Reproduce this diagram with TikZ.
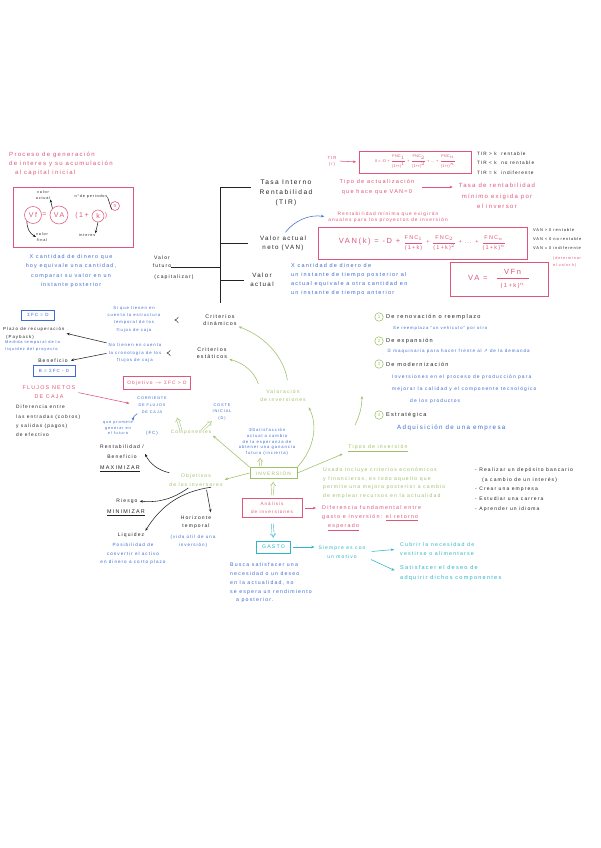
\documentclass[tikz,border=0pt]{standalone}
\usepackage{fontspec}
\usetikzlibrary{arrows.meta,calc}
\newfontfamily\hand[LetterSpace=22]{Liberation Sans}
\newfontfamily\hfm[LetterSpace=4]{Liberation Sans}
\newfontfamily\djv{DejaVu Sans}
\newcommand\hfs[2]{\hand\fontsize{#1}{#2}\selectfont}
\newcommand\hfr[2]{\ensuremath{\displaystyle\frac{\mbox{#1}}{\mbox{#2}}}}
\definecolor{pk}{HTML}{E0557C}
\definecolor{bl}{HTML}{3D6BD4}
\definecolor{gr}{HTML}{9DC068}
\definecolor{cy}{HTML}{2EB5C6}
\definecolor{bk}{HTML}{222222}
\begin{document}
\begin{tikzpicture}[x=1pt,y=-1pt,
 every node/.style={inner sep=0pt, align=center},
 f/.style 2 args={font=\hfs{#1}{#2}},
 P/.style={text=pk}, B/.style={text=bl}, G/.style={text=gr}, C/.style={text=cy}, K/.style={text=bk},
 ln/.style={line width=0.55pt},
 ar/.style={ln, -{Stealth[length=3.2pt,width=2.6pt]}},
 hol/.style={double=white, double distance=1.6pt, line width=0.45pt, -{Implies}},
 bx/.style={draw, line width=0.7pt},
 num/.style={circle, draw=gr, ln, text=gr, font=\hfs{4.3}{5}, minimum size=8.5}
]
\useasboundingbox[fill=white] (0,0) rectangle (601,848);

% ---------- top left
\node[f={6}{9},P,align=left,anchor=west] (title) at (9,164) {Proceso de generación\\de interes y su acumulación\\\hspace*{6pt}al capital inicial};
\node[bx,draw=pk,minimum width=120,minimum height=60] (fbox) at (73,217) {};
\node[circle,draw=pk,ln,P,f={7}{8},minimum size=17] (vf) at (33,215) {Vf};
\node[P,f={7}{8}] (eqa) at (44.5,215) {=};
\node[circle,draw=pk,ln,P,f={7}{8},minimum size=18] (va) at (59,215) {VA};
\node[P,f={7}{8}] (opn) at (82,216) {(1+};
\node[circle,draw=pk,ln,P,f={7}{8},minimum size=12] (kk) at (98,216) {k};
\node[P,f={7}{8}] (cls) at (106,216) {)};
\node[circle,draw=pk,ln,P,f={5}{6},minimum size=9] (nn) at (115,206) {n};
\node[K,f={3.8}{5.5}] (lva) at (43,195) {valor\\actual};
\node[K,f={3.8}{5}] (lnp) at (91,197) {n°de periodos};
\node[K,f={3.8}{5.5}] (lvf) at (42,237) {valor\\final};
\node[K,f={3.8}{5}] (lint) at (87,235) {interes};
\draw[ar,bk] (va.north west) -- (lva.south east);
\draw[ln,bk] (lnp.east) -- (nn.south west);
\draw[ar,bk] (vf.south west) to[bend right=30] (lvf.west);
\draw[ar,bk] (kk.south) -- (lint.north east);

\node[B,f={5.4}{9.5}] (xfut) at (71,271) {X cantidad de dinero que\\hoy equivale una cantidad,\\comparar su valor en un\\instante posterior};
\node[K,f={5}{8}] (vfut) at (162,262) {Valor\\futuro};
\node[K,f={5}{8}] (vcap) at (174,277) {(capitalizar)};

% ---------- bracket
\coordinate (brT) at (220,187);
\coordinate (brB) at (220,303);
\coordinate (brF) at (220,267);
\draw[ln,bk] (brT) -- (brB);
\draw[ln,bk] ([yshift=-5pt]vfut.east) -- (brF);
\node[K,f={6.6}{10}] (tir) at (286,193) {Tasa Interno\\Rentabilidad\\(TIR)};
\draw[ln,bk,shorten >=8pt] (brT) -- (brT -| tir.west);
\node[K,f={6.2}{9}] (van) at (283,243) {Valor actual\\neto (VAN)};
\draw[ln,bk,shorten >=12pt] (van.west -| brT) -- (van.west);
\node[K,f={6.2}{9}] (vact) at (262,280) {Valor\\actual};
\draw[ln,bk,shorten >=6pt] (vact.west -| brT) -- (vact.west);

% ---------- TIR
\node[P,f={4.3}{6}] (tirr) at (332,161) {TIR\\(r)};
\node[bx,draw=pk,P,font=\hfm\fontsize{3.9}{4.5}\selectfont,minimum width=112,minimum height=22] (tirbox) at (415.5,162) {0 = -D + \hfr{FNC$_1$}{(1+r)$^1$} + \hfr{FNC$_2$}{(1+r)$^2$} + ... + \hfr{FNC$_n$}{(1+r)$^n$}};
\draw[ar,pk,shorten <=3pt,shorten >=3pt] (tirr.east) -- (tirbox.west);
\node[K,f={4.7}{9.5},align=left,anchor=west] (tirrul) at (477,163) {TIR > k\ \ rentable\\TIR < k\ \ no rentable\\TIR = k\ \ indiferente};
\node[P,f={5.6}{9.5}] (tipoact) at (377,187) {Tipo de actualización\\que hace que VAN=0};
\node[P,f={6}{10.5}] (tasarent) at (497,196) {Tasa de rentabilidad\\mínimo exigida por\\el inversor};
\draw[ar,pk,shorten <=8pt,shorten >=6pt] (tipoact.east) -- (tasarent.west |- tipoact.east);

% ---------- VAN
\node[P,f={4.8}{6.5}] (rentmin) at (388,217) {Rentabilidad mínima que exigirán\\anuales para los proyectos de inversión};
\draw[ar,bl,shorten <=4pt,shorten >=4pt] (van.north) to[bend left=30] (rentmin.west);
\node[bx,draw=pk,P,minimum width=209,minimum height=32] (vanbox) at (422.5,243) {{\hfs{7.5}{9}VAN(k) = -D +}\ {\hfs{5.5}{6}\hfr{FNC$_1$}{(1+k)} + \hfr{FNC$_2$}{(1+k)$^2$} + ... + \hfr{FNC$_n$}{(1+k)$^n$}}};
\node[K,f={4}{9},align=left,anchor=west] (vanrul) at (533,239) {VAN > 0 rentable\\VAN < 0 no rentable\\VAN = 0 indiferente};
\node[P,f={3.8}{7.5},align=left,anchor=west] (detk) at (553,262) {(determinar\\el valor k)};
\node[bx,draw=pk,P,minimum width=98,minimum height=34] (vabox) at (499,279) {{\hfs{7.5}{9}VA =\hspace{8pt}}\hfr{\hfs{7.5}{9}\ \ VFn\ \ }{\hfs{6}{7}(1+k)$^n$}};
\node[B,f={5.5}{9},align=left,anchor=west] (xact) at (291,280) {X cantidad de dinero de\\un instante de tiempo posterior al\\actual equivale a otra cantidad en\\un instante de tiempo anterior};

% ---------- criterios
\node[K,f={5.3}{7.5}] (cdin) at (220,320) {Criterios\\dinámicos};
\node[K,f={5.3}{7.5}] (cest) at (212,353) {Criterios\\estáticos};
\node[B,f={4.2}{7.3}] (sitien) at (134,319) {Si que tienen en\\cuenta la estructura\\temporal de los\\flujos de caja};
\node[B,f={4.3}{7.5}] (notien) at (135,353) {No tienen en cuenta\\la cronología de los\\flujos de caja};
\draw[hol,bk,shorten <=6pt,shorten >=14pt] (cdin.west) -- (sitien.east |- cdin.west);
\draw[hol,bk,shorten <=6pt,shorten >=5pt] (cest.west) -- (notien.east |- cest.west);
\node[G,f={5}{8}] (valor) at (283,396) {Valoración\\de inversiones};
\draw[ar,gr,shorten <=10pt,shorten >=2pt] ([xshift=6pt]valor.north) to[bend right=30] (cdin.south east);
\draw[ar,gr,shorten <=6pt,shorten >=2pt] (valor.north west) to[bend right=30] (cest.south east);

% ---------- left payback
\node[bx,draw=bl,B,f={4.5}{6},minimum width=33,minimum height=10] (sfcd) at (38,315) {ΣFC = D};
\node[K,f={4.4}{8},align=left,anchor=west] (payb) at (3,333) {Plazo de recuperación\\\hspace*{3pt}(Payback)};
\node[B,f={4}{6.5},align=left,anchor=west] (medida) at (5,346) {Medida temporal de la\\liquidez del proyecto};
\draw[ar,bk,shorten <=2pt,shorten >=2pt] (notien.north west) -- (payb.east);
\node[K,f={5}{7}] (benef) at (53,361) {Beneficio};
\draw[ar,bk,shorten <=2pt,shorten >=3pt] (notien.west) -- (benef.east);
\node[bx,draw=bl,B,f={4.5}{6},minimum width=42,minimum height=11] (bsfc) at (54,371) {B = ΣFC - D};
\node[bx,draw=pk,P,f={4.8}{6},minimum width=67,minimum height=13] (objbox) at (157,383) {Objetivo $\rightarrow$ ΣFC > D};
\node[P,f={5.4}{9.5}] (fnc) at (49,392) {FLUJOS NETOS\\DE CAJA};
\node[K,f={4.8}{9.3},align=left,anchor=west] (difent) at (16,421) {Diferencia entre\\las entradas (cobros)\\y salidas (pagos)\\de efectivo};
\node[B,f={3.8}{7}] (corr) at (152,405) {CORRIENTE\\DE FLUJOS\\DE CAJA};
\draw[ar,pk,shorten <=3pt,shorten >=8pt] (fnc.east) -- (corr.west);
\node[B,f={3.9}{5.7}] (prom) at (118,428) {que promete\\generar en\\el futuro};
\draw[ar,bl] (corr.south west) to[bend right=30] (prom.north east);
\node[B,f={4.5}{6}] (fc) at (152,433) {(FC)};
\node[G,f={4.8}{7}] (comp) at (191,432) {Componentes};
\node[B,f={3.9}{6.5}] (coste) at (222,412) {COSTE\\INICIAL\\(D)};
\draw[hol,gr] ([xshift=-10pt,yshift=-1pt]comp.north) -- ([xshift=-14pt,yshift=12pt]comp.north);
\draw[hol,gr,shorten >=1pt] ([xshift=11pt,yshift=-1pt]comp.north) -- (coste.south west);

% ---------- inversion
\node[bx,draw=gr,G,f={4.8}{6},minimum width=47,minimum height=11] (inv) at (273.5,473) {INVERSIÓN};
\draw[ar,gr,shorten >=2pt] (inv.north west) -- (comp.south east);
\node[B,f={4.2}{5.8}] (satis) at (267,442) {{\djv\fontsize{4.2}{5}\selectfont ①}Satisfacción\\actual a cambio\\de la esperanza de\\obtener una ganancia\\futura (incierta)};
\draw[hol,gr,shorten <=1pt,shorten >=2pt] ([xshift=-13pt]inv.north) -- ([xshift=-7pt]satis.south);
\draw[ar,gr,shorten >=6pt] (inv.north east) to[bend right=35] (valor.south east);
\node[G,f={5}{9.5}] (obj) at (196,480) {Objetivos\\de los inversores};
\draw[ar,gr,shorten >=2pt] (inv.west) -- (obj.east);
\node[G,f={5.2}{7}] (tipos) at (378,448) {\underline{Tipos de inversión}};
\draw[ar,gr,shorten >=6pt] (inv.east) -- (tipos.south west);
\node[G,f={5.1}{8.7},align=left,anchor=west] (usado) at (323,483) {Usado incluye criterios económicos\\y financieros, es todo aquello que\\permite una mejora posterior a cambio\\de emplear recursos en la actualidad};
\coordinate (tyA) at (355,425);
\coordinate (tyB) at (362,396);
\draw[ar,gr] (tyA) to[bend right=12] (tyB);

% ---------- tipos list
\node[num] (n1) at (379,317) {1};
\node[K,f={5.6}{7},anchor=west] (r1) at (386,317) {De renovación o reemplazo};
\node[B,f={4.2}{6},anchor=west] (r1b) at (393,328) {Se reemplaza "un vehículo" por otro};
\node[num] (n2) at (379,341) {2};
\node[K,f={5.6}{7},anchor=west] (r2) at (386,341) {De expansión};
\node[B,f={4.5}{6},anchor=west] (r2b) at (387,351) {{\djv\fontsize{4.5}{6}\selectfont ②} maquinaria para hacer frente al {\djv\fontsize{4.5}{6}\selectfont ↗} de la demanda};
\node[num] (n3) at (379,364) {3};
\node[K,f={5.6}{7},anchor=west] (r3) at (386,364) {De modernización};
\node[B,f={4.9}{12},align=left,anchor=west] (r3b) at (392,389) {Inversiones en el proceso de producción para\\mejorar la calidad y el componente tecnológico\\\hspace*{18pt}de los productos};
\node[num] (n4) at (379,415) {4};
\node[K,f={5.6}{7},anchor=west] (r4) at (386,415) {Estratégica};
\node[B,f={6.2}{7},anchor=west] (r4b) at (397,428) {Adquisición de una empresa};

\node[K,f={5}{9.7},align=left,anchor=west] (ejem) at (475,489.5) {- Realizar un depósito bancario\\\hspace*{7pt}(a cambio de un interés)\\- Crear una empresa\\- Estudiar una carrera\\- Aprender un idioma};

% ---------- analisis / gasto
\node[bx,draw=pk,P,f={4.6}{7.5},minimum width=60,minimum height=19] (anal) at (272,508) {Análisis\\de inversiones};
\draw[hol,gr,shorten <=3pt,shorten >=3pt] (anal.north) -- (inv.south);
\node[P,f={5.4}{9},align=left,anchor=west] (difer) at (322,518) {Diferencia fundamental entre\\gasto e inversión: \underline{el retorno}\\\hspace*{6pt}\underline{esperado}};
\draw[ar,pk,shorten <=3pt,shorten >=6pt] (anal.east) -- (difer.west |- anal.east);
\node[bx,draw=cy,C,f={5.2}{6},minimum width=34,minimum height=12] (gasto) at (273.5,547) {GASTO};
\draw[hol,cy,shorten <=6pt,shorten >=3pt] (anal.south) -- (gasto.north);
\node[C,f={5}{8.5}] (siempre) at (342,552) {Siempre es con\\un motivo};
\draw[ar,cy,shorten <=2pt,shorten >=4pt] (gasto.east) -- (siempre.west |- gasto.east);
\node[C,f={5.3}{8.2},align=left,anchor=west] (cubrir) at (400,549) {Cubrir la necesidad de\\vestirse o alimentarse};
\node[C,f={5.6}{9.5},align=left,anchor=west] (satisf) at (400,573) {Satisfacer el deseo de\\adquirir dichos componentes};
\draw[ar,cy,shorten <=6pt,shorten >=6pt] (siempre.east) -- (cubrir.west);
\draw[ar,cy,shorten <=6pt,shorten >=6pt] ([yshift=-5pt]siempre.east) -- (satisf.west);
\node[B,f={5.2}{8.8},align=left,anchor=west] (busca) at (230,583) {Busca satisfacer una\\necesidad o un deseo\\en la actualidad, no\\se espera un rendimiento\\\hspace*{6pt}a posterior.};

% ---------- objetivos
\node[K,f={5}{10}] (rent) at (122,452) {Rentabilidad /\\Beneficio};
\node[K,f={5.4}{6}] (maxi) at (120,469) {\underline{MAXIMIZAR}};
\node[K,f={5}{6}] (riesgo) at (127,501) {Riesgo};
\node[K,f={5.4}{6}] (mini) at (126,513) {\underline{MINIMIZAR}};
\node[K,f={5}{6}] (liq) at (131,535) {Liquidez};
\node[B,f={4.6}{8.5}] (posib) at (133,554) {Posibilidad de\\convertir el activo\\en dinero a corto plazo};
\node[K,f={5}{8.5}] (horiz) at (196,522) {Horizonte\\temporal};
\node[B,f={4.5}{8}] (vida) at (193,541) {(vida útil de una\\inversión)};
\draw[ar,bk,shorten <=2pt,shorten >=2pt] ([xshift=2pt]obj.north west) to[bend left=25] (rent.east);
\draw[ar,bk,shorten <=2pt,shorten >=2pt] ([xshift=-6pt]obj.south) to[bend left=20] (riesgo.east);
\draw[ar,bk,shorten <=3pt,shorten >=2pt] ([xshift=18pt]obj.south) to[bend right=25] (liq.north east);
\draw[ar,bk,shorten <=3pt,shorten >=3pt] ([xshift=10pt]obj.south) -- (horiz.north east);
\end{tikzpicture}
\end{document}
